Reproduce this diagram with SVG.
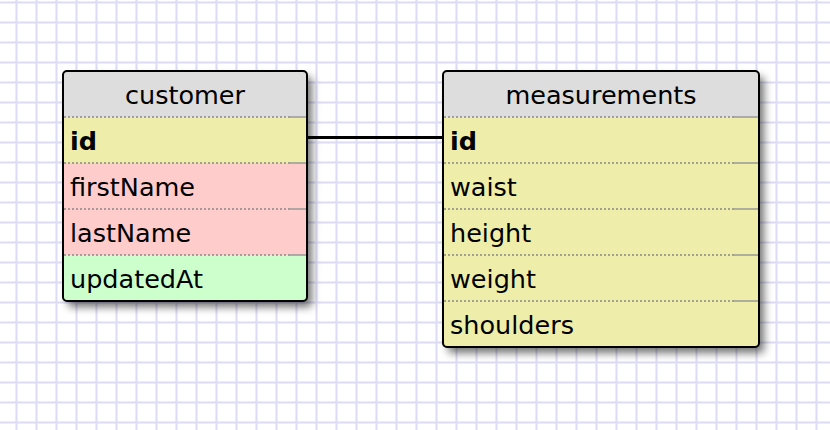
<svg xmlns="http://www.w3.org/2000/svg" width="830" height="430" viewBox="0 0 830 430">
<defs>
<pattern id="grid" x="0" y="0" width="20" height="20" patternUnits="userSpaceOnUse">
<rect x="0" y="0" width="20" height="20" fill="#ffffff"/>
<rect x="15.5" y="0" width="2" height="20" fill="#dcdcf4"/>
<rect x="0" y="1.5" width="20" height="2" fill="#dcdcf4"/>
</pattern>
<filter id="shadow" x="-10%" y="-10%" width="130%" height="130%">
<feGaussianBlur in="SourceAlpha" stdDeviation="4"/>
<feOffset dx="5" dy="6" result="b"/>
<feComponentTransfer><feFuncA type="linear" slope="0.55"/></feComponentTransfer>
<feMerge><feMergeNode/><feMergeNode in="SourceGraphic"/></feMerge>
</filter>
<clipPath id="c1"><rect x="63" y="71" width="244" height="230" rx="4"/></clipPath>
<clipPath id="c2"><rect x="443" y="71" width="316" height="276" rx="4"/></clipPath>
</defs>
<style>
text{font-family:"DejaVu Sans",Verdana,sans-serif;font-size:25.5px;fill:#000}
.hd{text-anchor:middle}
.b{font-weight:bold}
.sep{stroke:#888;stroke-width:1.5;stroke-dasharray:2 2}
.sepr{stroke:#999;stroke-width:1.5}
.frame{fill:none;stroke:#000;stroke-width:2}
.head{fill:#dddddd}.yel{fill:#eeeeaa}.pink{fill:#ffcccc}.grn{fill:#ccffcc}
.link{stroke:#000;stroke-width:3;fill:none}
</style>
<rect x="0" y="0" width="830" height="430" fill="url(#grid)"/>
<g id="connectors">
<line class="link" x1="308" y1="137.5" x2="443" y2="137.5"/>
</g>
<g id="customer">
<rect x="63" y="71" width="244" height="230" rx="4" fill="#fff" filter="url(#shadow)"/>
<g clip-path="url(#c1)">
<rect class="head" x="63" y="71" width="244" height="46"/>
<rect class="yel" x="63" y="117" width="244" height="46"/>
<rect class="pink" x="63" y="163" width="244" height="92"/>
<rect class="grn" x="63" y="255" width="244" height="46"/>
</g>
<line class="sep" x1="64" y1="117" x2="290" y2="117"/><line class="sepr" x1="290" y1="117" x2="306" y2="117"/>
<line class="sep" x1="64" y1="163" x2="290" y2="163"/><line class="sepr" x1="290" y1="163" x2="306" y2="163"/>
<line class="sep" x1="64" y1="209" x2="290" y2="209"/><line class="sepr" x1="290" y1="209" x2="306" y2="209"/>
<line class="sep" x1="64" y1="255" x2="290" y2="255"/><line class="sepr" x1="290" y1="255" x2="306" y2="255"/>
<rect class="frame" x="63" y="71" width="244" height="230" rx="4"/>
<text class="hd" x="185" y="104">customer</text>
<text class="b" x="70" y="150">id</text>
<text x="70" y="196">firstName</text>
<text x="70" y="242">lastName</text>
<text x="70" y="288">updatedAt</text>
</g>
<g id="measurements">
<rect x="443" y="71" width="316" height="276" rx="4" fill="#fff" filter="url(#shadow)"/>
<g clip-path="url(#c2)">
<rect class="head" x="443" y="71" width="316" height="46"/>
<rect class="yel" x="443" y="117" width="316" height="230"/>
</g>
<line class="sep" x1="444" y1="117" x2="734" y2="117"/><line class="sepr" x1="734" y1="117" x2="758" y2="117"/>
<line class="sep" x1="444" y1="163" x2="734" y2="163"/><line class="sepr" x1="734" y1="163" x2="758" y2="163"/>
<line class="sep" x1="444" y1="209" x2="734" y2="209"/><line class="sepr" x1="734" y1="209" x2="758" y2="209"/>
<line class="sep" x1="444" y1="255" x2="734" y2="255"/><line class="sepr" x1="734" y1="255" x2="758" y2="255"/>
<line class="sep" x1="444" y1="301" x2="734" y2="301"/><line class="sepr" x1="734" y1="301" x2="758" y2="301"/>
<rect class="frame" x="443" y="71" width="316" height="276" rx="4"/>
<text class="hd" x="601" y="104">measurements</text>
<text class="b" x="450" y="150">id</text>
<text x="450" y="196">waist</text>
<text x="450" y="242">height</text>
<text x="450" y="288">weight</text>
<text x="450" y="334">shoulders</text>
</g>
</svg>
